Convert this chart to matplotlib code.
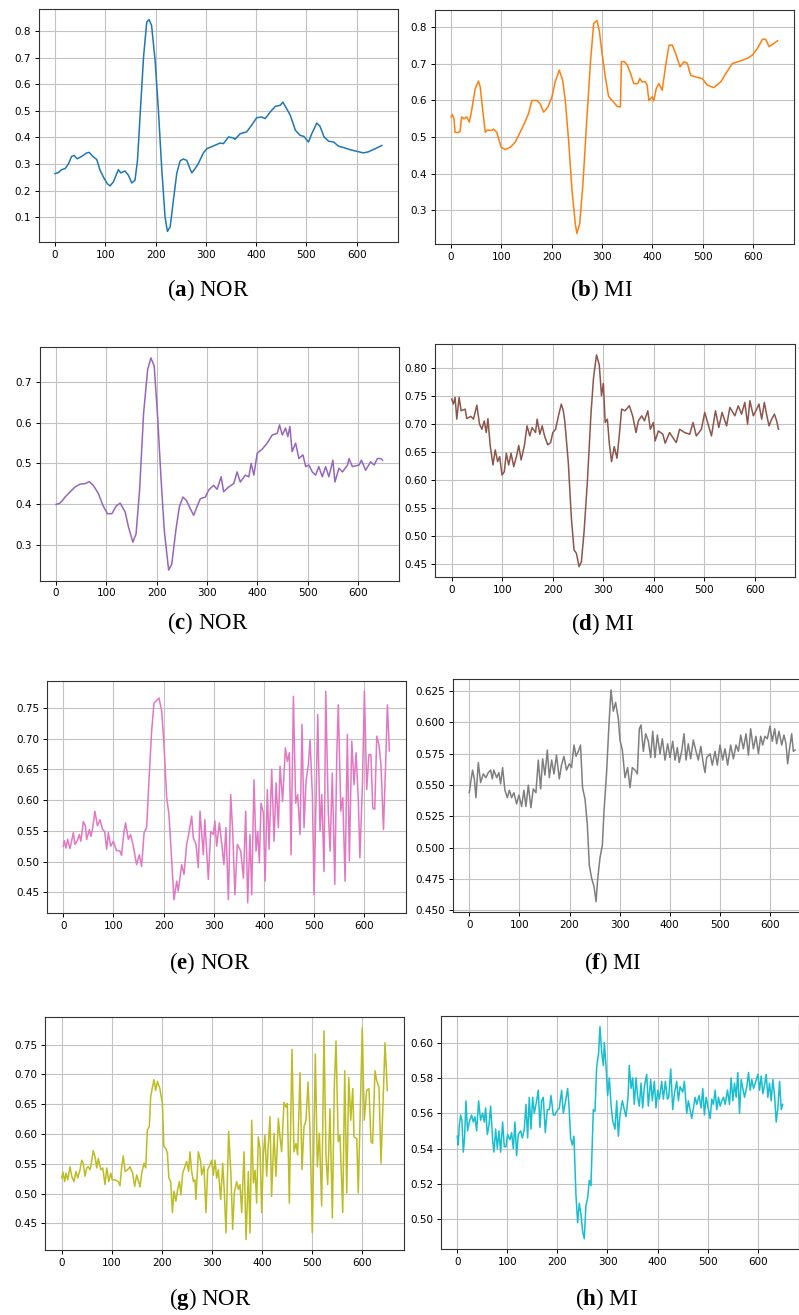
import matplotlib
matplotlib.use("Agg")
import matplotlib.pyplot as plt

# ---- data (sample index, value) ----
a_x = [0, 6.6, 13, 20, 26.5, 33, 38, 44, 53, 63, 68, 75, 83, 89.5, 96, 104, 109.4, 116, 126, 130.6,
       139, 146, 152.5, 159, 164, 169, 176, 182.4, 187, 192, 199, 205.6, 212, 218.8, 223.5, 229, 235.4,
       242, 248.7, 255, 262, 267, 272, 278.5, 285, 295, 302, 315, 328, 335, 345, 355, 358, 368, 381,
       391, 401, 411, 418, 428, 438, 448, 453, 458, 468, 478, 487.5, 495, 504, 510.6, 520.6, 527, 535,
       544, 554, 564, 574, 587, 600, 613, 623, 637, 650]
a_y = [0.264, 0.268, 0.279, 0.283, 0.300, 0.329, 0.332, 0.320, 0.329, 0.342, 0.344, 0.329, 0.317, 0.277,
       0.252, 0.226, 0.218, 0.233, 0.279, 0.267, 0.274, 0.258, 0.229, 0.239, 0.314, 0.477, 0.702, 0.834,
       0.843, 0.821, 0.690, 0.502, 0.289, 0.101, 0.047, 0.064, 0.164, 0.264, 0.312, 0.319, 0.314, 0.289,
       0.267, 0.283, 0.302, 0.342, 0.358, 0.368, 0.379, 0.377, 0.402, 0.398, 0.393, 0.414, 0.421, 0.446,
       0.474, 0.477, 0.471, 0.496, 0.517, 0.521, 0.533, 0.517, 0.483, 0.427, 0.408, 0.404, 0.383, 0.414,
       0.454, 0.442, 0.402, 0.386, 0.383, 0.367, 0.362, 0.354, 0.348, 0.342, 0.346, 0.358, 0.370]

b_x = [0, 2.7, 6, 8, 12.6, 18, 21, 26, 31, 36.5, 41, 48, 54.4, 58, 63, 68, 72, 81, 84, 91, 99.6, 107.5,
       117.5, 127.4, 134, 144, 154, 160.6, 170.6, 177, 184, 192.5, 200.4, 207, 215, 221.7, 227, 233.6,
       240.4, 247, 250, 255.5, 262, 268.8, 276.8, 283.4, 290, 294.8, 300, 306.6, 313, 320, 330, 336.5,
       338.5, 344.5, 350, 356.4, 363, 371, 375, 379.6, 386, 389.6, 392.9, 399.6, 402.8, 407.5, 412.8,
       419.5, 426, 433, 439.5, 446, 455, 463, 469.5, 476, 486, 499, 509, 522, 536, 546, 559, 575.4,
       588.7, 598.7, 608.6, 618.6, 625, 631.9, 641.8, 648.5]
b_y = [0.555, 0.561, 0.550, 0.513, 0.512, 0.515, 0.555, 0.550, 0.555, 0.541, 0.573, 0.632, 0.653, 0.637,
       0.573, 0.513, 0.519, 0.518, 0.522, 0.513, 0.472, 0.466, 0.472, 0.486, 0.504, 0.532, 0.564, 0.600,
       0.600, 0.591, 0.568, 0.582, 0.610, 0.651, 0.683, 0.655, 0.600, 0.490, 0.353, 0.262, 0.237, 0.262,
       0.371, 0.527, 0.701, 0.811, 0.818, 0.788, 0.729, 0.664, 0.611, 0.600, 0.584, 0.582, 0.706, 0.706,
       0.697, 0.675, 0.646, 0.646, 0.660, 0.651, 0.651, 0.642, 0.600, 0.610, 0.599, 0.632, 0.646, 0.628,
       0.692, 0.751, 0.751, 0.729, 0.692, 0.706, 0.701, 0.669, 0.664, 0.660, 0.642, 0.635, 0.651, 0.674,
       0.701, 0.708, 0.715, 0.724, 0.742, 0.767, 0.767, 0.747, 0.756, 0.763]

c_x = [0, 6.6, 13, 18, 28, 38, 48, 58, 66, 74, 84, 93, 102, 111, 119.5, 127.4, 137.4, 144, 152.6, 159,
       166, 174, 182, 188.5, 195, 201.8, 208.4, 215, 223.7, 230, 238, 245, 252, 258.8, 265, 273.4, 280,
       286.7, 296.7, 303, 313, 320, 328, 333, 343, 353, 359.7, 366, 376, 383, 387.6, 393, 399.6, 409.5,
       419.5, 429.4, 439.4, 444, 449.5, 456, 460.6, 464.6, 469, 476, 482.5, 490.5, 496, 502.4, 509,
       515.7, 522, 529, 535.6, 542, 550, 554, 562, 569, 579, 582, 588.7, 602, 606.6, 615, 625, 632,
       638.5, 645, 648.5]
c_y = [0.399, 0.401, 0.409, 0.417, 0.430, 0.442, 0.449, 0.450, 0.455, 0.446, 0.426, 0.397, 0.376, 0.376,
       0.395, 0.402, 0.380, 0.343, 0.306, 0.326, 0.434, 0.624, 0.731, 0.760, 0.740, 0.616, 0.467, 0.335,
       0.237, 0.252, 0.335, 0.393, 0.417, 0.409, 0.393, 0.372, 0.393, 0.413, 0.417, 0.434, 0.446, 0.436,
       0.467, 0.430, 0.442, 0.450, 0.479, 0.454, 0.471, 0.467, 0.500, 0.471, 0.525, 0.535, 0.550, 0.570,
       0.574, 0.595, 0.570, 0.587, 0.566, 0.591, 0.529, 0.550, 0.512, 0.521, 0.492, 0.496, 0.479, 0.471,
       0.492, 0.467, 0.492, 0.467, 0.508, 0.454, 0.488, 0.479, 0.496, 0.512, 0.492, 0.496, 0.508, 0.483,
       0.504, 0.496, 0.512, 0.512, 0.508]

d_x = [0, 3.3, 6.6, 10, 14.6, 18.6, 26.5, 29.8, 37.8, 43, 49.7, 55, 59.7, 64.3, 68.3, 71.6, 76, 81.6,
       86, 90.9, 94.8, 99.5, 104, 108, 112.7, 117.4, 122.7, 128, 132.6, 137.3, 144, 149, 154.5, 159,
       165.8, 169, 174.4, 179, 183.7, 190, 195.6, 200, 205.5, 212, 216.8, 220.8, 224, 230.8, 236.7, 242,
       246.7, 252, 256.6, 262, 268.6, 275.3, 280.5, 286.5, 292, 296.4, 300, 303.7, 308, 311.7, 316.3,
       321.6, 327, 331.5, 336.2, 342.8, 351.5, 358, 364.7, 369.4, 376, 381.3, 388, 393, 399, 402.5, 409,
       417.8, 422.4, 431, 437.7, 444.3, 451, 461, 471, 477.5, 484, 494, 500.7, 507.3, 514, 522, 528.5,
       535, 544, 550.4, 560.3, 567, 573.6, 580, 585.5, 590, 596.8, 603.5, 608, 613.4, 618.7, 623, 627.9,
       633.2, 638.6, 643, 646.6]
d_y = [0.745, 0.736, 0.748, 0.709, 0.748, 0.724, 0.727, 0.710, 0.714, 0.709, 0.734, 0.700, 0.691, 0.706,
       0.685, 0.710, 0.663, 0.627, 0.654, 0.633, 0.642, 0.609, 0.615, 0.648, 0.627, 0.648, 0.624, 0.642,
       0.662, 0.636, 0.663, 0.697, 0.679, 0.694, 0.685, 0.709, 0.682, 0.697, 0.679, 0.663, 0.667, 0.685,
       0.691, 0.718, 0.736, 0.724, 0.703, 0.630, 0.533, 0.475, 0.469, 0.445, 0.454, 0.509, 0.600, 0.715,
       0.782, 0.824, 0.806, 0.751, 0.773, 0.703, 0.709, 0.667, 0.633, 0.660, 0.639, 0.679, 0.727, 0.724,
       0.733, 0.715, 0.685, 0.706, 0.715, 0.706, 0.724, 0.691, 0.703, 0.670, 0.688, 0.682, 0.666, 0.685,
       0.676, 0.667, 0.691, 0.685, 0.682, 0.703, 0.679, 0.691, 0.721, 0.700, 0.679, 0.724, 0.694, 0.721,
       0.697, 0.730, 0.715, 0.733, 0.718, 0.739, 0.700, 0.742, 0.715, 0.727, 0.736, 0.709, 0.739, 0.718,
       0.697, 0.709, 0.718, 0.706, 0.691]

e_x = [0, 2, 5.3, 8.6, 13.3, 16.6, 20, 23, 28, 32, 35, 40, 44, 46.5, 52, 55, 58.5, 63, 68, 73, 78.4,
       82.4, 86.4, 89.7, 94.4, 99.7, 106, 113, 116, 121, 124, 129.6, 134, 139.5, 146, 151.5, 156, 161,
       166, 171, 176, 180.7, 184.7, 190.7, 196, 200.7, 206, 210.6, 216, 220.6, 226, 229, 235.9, 240.5,
       245.8, 250.5, 255.8, 259, 264.5, 269, 272.4, 279, 282, 289, 293.7, 299, 302, 305.6, 311, 315.6,
       320, 324, 329, 333.6, 337.5, 342, 346.8, 353.5, 359, 363.5, 367.4, 372, 375.4, 380, 384, 387.4,
       390.7, 394, 398.7, 402, 406.6, 410, 415.3, 420, 424, 428.6, 431.9, 437, 442.5, 446.5, 450.5,
       453.8, 458.5, 463, 467, 471.8, 475.7, 479.7, 483.7, 488.4, 491.7, 496.3, 499.7, 503.7, 507, 511.6,
       515, 519.6, 523, 528, 531.6, 536, 541, 545, 548, 553, 557, 561.5, 566, 570, 574.8, 579.4, 583.4,
       588, 591, 596, 600, 604.6, 609, 613, 616.6, 620.6, 624.6, 629, 633, 638, 643, 645.8, 649.8]
e_y = [0.525, 0.534, 0.522, 0.536, 0.521, 0.534, 0.547, 0.528, 0.534, 0.544, 0.533, 0.565, 0.558, 0.536,
       0.552, 0.541, 0.554, 0.582, 0.558, 0.568, 0.552, 0.549, 0.520, 0.547, 0.525, 0.533, 0.518, 0.517,
       0.510, 0.549, 0.563, 0.536, 0.544, 0.525, 0.495, 0.511, 0.492, 0.547, 0.555, 0.636, 0.712, 0.758,
       0.761, 0.766, 0.745, 0.690, 0.604, 0.576, 0.501, 0.438, 0.468, 0.452, 0.495, 0.479, 0.528, 0.547,
       0.574, 0.539, 0.528, 0.490, 0.582, 0.511, 0.568, 0.471, 0.549, 0.544, 0.566, 0.525, 0.563, 0.530,
       0.495, 0.555, 0.438, 0.609, 0.549, 0.446, 0.528, 0.517, 0.473, 0.582, 0.433, 0.544, 0.446, 0.633,
       0.517, 0.549, 0.498, 0.595, 0.579, 0.468, 0.617, 0.520, 0.650, 0.533, 0.628, 0.555, 0.655, 0.598,
       0.685, 0.663, 0.677, 0.511, 0.769, 0.595, 0.609, 0.544, 0.723, 0.555, 0.631, 0.658, 0.698, 0.609,
       0.446, 0.606, 0.739, 0.549, 0.609, 0.484, 0.777, 0.582, 0.517, 0.644, 0.463, 0.674, 0.755, 0.582,
       0.604, 0.468, 0.707, 0.501, 0.696, 0.625, 0.677, 0.598, 0.506, 0.623, 0.777, 0.617, 0.674, 0.674,
       0.587, 0.585, 0.704, 0.690, 0.658, 0.552, 0.677, 0.755, 0.680]

f_x = [0, 2.7, 6.6, 10, 13.3, 18, 22.6, 28, 33, 38, 42.6, 46, 49, 54.6, 59, 62.5, 66.5, 71, 76, 80, 84.5,
       89, 94.5, 99, 104.5, 109, 113, 117.8, 123, 127.7, 133, 137.7, 142.4, 146.4, 151, 155.7, 159.7,
       164.3, 169, 174, 179.6, 184, 188.9, 194, 199.6, 204, 209, 213, 217.6, 222, 226, 230.9, 235.5,
       239.5, 244, 249, 253, 256, 260.8, 265.5, 268.8, 274, 278.8, 282.8, 287.4, 292, 297.4, 300.7,
       305.4, 310.7, 316, 320.7, 325.3, 330.7, 335.3, 339.3, 342.7, 347.3, 352, 357.3, 362, 366, 370.6,
       375.3, 380.6, 385.2, 390.6, 395.9, 400.5, 405.9, 410.5, 415.2, 419, 423.8, 428.5, 432.5, 437,
       441.8, 447, 452.4, 457, 462, 467, 470.4, 473.7, 480.4, 485, 490.4, 495, 500.3, 505.7, 510.3,
       515.6, 521.6, 527, 532.3, 537, 541.6, 547, 552.3, 557, 561.5, 567, 572, 577, 581.5, 585.5, 590,
       594.8, 600, 604.7, 609.4, 613.4, 618, 623.4, 628, 632, 635.3, 638.7, 643.3, 646.7, 650]
f_y = [0.544, 0.552, 0.562, 0.555, 0.540, 0.568, 0.552, 0.559, 0.556, 0.560, 0.562, 0.555, 0.562, 0.556,
       0.560, 0.551, 0.564, 0.546, 0.540, 0.546, 0.540, 0.544, 0.535, 0.542, 0.533, 0.546, 0.533, 0.550,
       0.532, 0.547, 0.544, 0.570, 0.547, 0.571, 0.558, 0.578, 0.556, 0.570, 0.559, 0.574, 0.555, 0.566,
       0.573, 0.562, 0.567, 0.564, 0.582, 0.573, 0.577, 0.582, 0.548, 0.539, 0.519, 0.486, 0.476, 0.469,
       0.457, 0.474, 0.492, 0.502, 0.529, 0.560, 0.599, 0.626, 0.609, 0.616, 0.603, 0.586, 0.578, 0.556,
       0.564, 0.548, 0.564, 0.562, 0.559, 0.595, 0.598, 0.577, 0.591, 0.585, 0.572, 0.593, 0.572, 0.590,
       0.575, 0.587, 0.570, 0.583, 0.572, 0.585, 0.570, 0.580, 0.568, 0.577, 0.591, 0.570, 0.583, 0.571,
       0.586, 0.577, 0.570, 0.581, 0.567, 0.560, 0.572, 0.575, 0.566, 0.577, 0.566, 0.582, 0.570, 0.579,
       0.566, 0.582, 0.571, 0.582, 0.577, 0.590, 0.579, 0.591, 0.574, 0.595, 0.579, 0.589, 0.575, 0.589,
       0.582, 0.589, 0.587, 0.597, 0.585, 0.595, 0.583, 0.593, 0.582, 0.590, 0.583, 0.567, 0.578, 0.591,
       0.577, 0.578]

g_x = [0, 2.7, 6, 8.6, 12, 16.6, 20, 24.6, 28.6, 32, 36.6, 40, 43, 46.6, 50, 53, 56.6, 58.5, 63, 66.5,
       70, 73, 78, 82, 86.5, 90, 94, 98, 101, 106.5, 113, 116.4, 119.8, 123, 126.4, 131.7, 136.4, 141.7,
       145.7, 149.7, 153.7, 156.4, 159.7, 164.3, 167.7, 171, 175, 177.6, 181, 184.3, 187.6, 191, 196,
       201, 204, 207.6, 211, 214, 217.6, 221, 224, 228, 231.5, 235, 238, 241.5, 246, 249.5, 253.5, 256,
       259.5, 263, 266, 268, 272.8, 277.4, 279.4, 284, 288, 291.4, 296, 299.4, 302.7, 306, 309.4, 312.7,
       317.4, 321.4, 324.7, 328, 333.3, 338, 341.3, 344.6, 349.3, 352.6, 356, 359.3, 364, 368, 372.6,
       376, 379.3, 382.6, 386, 389.2, 392.5, 395.9, 399.2, 402.5, 405.8, 409.2, 412.5, 415.8, 419,
       423.8, 427.8, 432.5, 435.8, 439, 443.8, 447.8, 450.4, 454.4, 459.7, 463.7, 467.7, 471, 475.7,
       479.7, 483.7, 487.7, 491.7, 495.7, 500.3, 503, 506.3, 510.3, 514.3, 519, 523.6, 527.6, 531,
       535.6, 540.3, 544.2, 547.6, 552, 555.5, 561, 565, 569, 573, 577, 581, 583.5, 589, 592, 595.5, 600,
       604, 608.8, 613.4, 617.4, 620.7, 625.4, 628.7, 633.4, 637.4, 642, 645.4, 650]
g_y = [0.526, 0.536, 0.520, 0.534, 0.523, 0.545, 0.529, 0.520, 0.537, 0.526, 0.540, 0.556, 0.551, 0.529,
       0.543, 0.545, 0.540, 0.547, 0.572, 0.562, 0.543, 0.559, 0.540, 0.543, 0.515, 0.543, 0.520, 0.534,
       0.523, 0.523, 0.520, 0.513, 0.545, 0.563, 0.537, 0.540, 0.545, 0.534, 0.512, 0.531, 0.520, 0.511,
       0.534, 0.551, 0.543, 0.606, 0.613, 0.662, 0.678, 0.691, 0.673, 0.688, 0.676, 0.651, 0.579, 0.576,
       0.568, 0.526, 0.520, 0.468, 0.504, 0.487, 0.507, 0.520, 0.498, 0.534, 0.545, 0.554, 0.537, 0.570,
       0.537, 0.520, 0.523, 0.490, 0.570, 0.554, 0.531, 0.546, 0.468, 0.540, 0.548, 0.556, 0.531, 0.556,
       0.526, 0.540, 0.490, 0.551, 0.501, 0.434, 0.604, 0.529, 0.440, 0.501, 0.520, 0.507, 0.515, 0.468,
       0.570, 0.423, 0.537, 0.434, 0.623, 0.518, 0.539, 0.484, 0.595, 0.576, 0.468, 0.565, 0.598, 0.529,
       0.584, 0.629, 0.495, 0.601, 0.529, 0.626, 0.595, 0.570, 0.653, 0.645, 0.651, 0.484, 0.742, 0.570,
       0.584, 0.565, 0.703, 0.540, 0.612, 0.623, 0.687, 0.604, 0.434, 0.573, 0.734, 0.545, 0.601, 0.479,
       0.773, 0.562, 0.515, 0.642, 0.459, 0.681, 0.756, 0.587, 0.598, 0.468, 0.706, 0.501, 0.695, 0.623,
       0.676, 0.595, 0.592, 0.501, 0.620, 0.778, 0.623, 0.673, 0.676, 0.587, 0.584, 0.706, 0.690, 0.678,
       0.551, 0.665, 0.753, 0.673]

h_x = [0, 2, 4, 6.7, 9.3, 12, 14.6, 17.3, 20.6, 24, 28.6, 32, 35.3, 38.7, 42.6, 46.6, 50.6, 54, 56.6, 60,
       63.3, 66.6, 70.6, 73.3, 76.6, 80, 83.2, 86.6, 90.6, 93.9, 97.2, 100.5, 105.2, 108.5, 111.9, 115.2,
       118.5, 121.9, 126.5, 129.9, 133.9, 137.2, 140.5, 143.8, 147.2, 150.5, 153.8, 158.5, 161.8, 165.1,
       168.5, 171.8, 175.8, 179.8, 183.8, 187.1, 191.8, 195.1, 198.4, 203.8, 208.4, 211.8, 216.4, 220.4,
       223, 226.4, 229.7, 233, 237, 240.4, 243.7, 247, 250.4, 253.7, 257, 260.4, 263.7, 267, 271.7, 275,
       278.4, 282.3, 285, 288.3, 291.7, 293.7, 297, 300.3, 303.7, 307, 310.3, 315, 318.4, 321.7, 325,
       329.7, 333.6, 337, 341, 343.6, 347, 350.3, 353.6, 357, 360.3, 363.6, 367, 370.3, 373.6, 378.3,
       381.6, 386.3, 389.6, 393.6, 396.9, 400.3, 403.6, 408.3, 411.6, 415.6, 419.6, 422.3, 426.3, 430.3,
       433.6, 438.3, 441.6, 445, 450.3, 453.6, 458.3, 461.6, 465, 468.3, 471.6, 475, 478.3, 483, 487,
       490.3, 493.6, 497, 501.6, 505, 508.3, 511.6, 515, 518.3, 521.7, 525, 528.3, 531.7, 535, 539.7,
       543.7, 547, 550.3, 553.7, 557, 560.3, 563.7, 567, 570.3, 573.7, 578.3, 581.7, 585, 588.3, 591.7,
       596.3, 600.3, 603.7, 607, 610.3, 613.7, 617, 620.3, 623.6, 627, 630.3, 633.7, 637, 640.3, 643.7,
       647, 650]
h_y = [0.547, 0.542, 0.553, 0.559, 0.556, 0.538, 0.546, 0.567, 0.550, 0.555, 0.559, 0.555, 0.558, 0.550,
       0.567, 0.556, 0.560, 0.555, 0.563, 0.548, 0.553, 0.564, 0.545, 0.538, 0.551, 0.540, 0.550, 0.538,
       0.555, 0.541, 0.541, 0.548, 0.545, 0.549, 0.540, 0.555, 0.536, 0.548, 0.550, 0.546, 0.551, 0.565,
       0.546, 0.569, 0.551, 0.569, 0.560, 0.567, 0.573, 0.552, 0.567, 0.569, 0.549, 0.562, 0.562, 0.570,
       0.559, 0.559, 0.561, 0.563, 0.573, 0.560, 0.567, 0.574, 0.565, 0.546, 0.542, 0.547, 0.514, 0.498,
       0.509, 0.503, 0.493, 0.489, 0.508, 0.512, 0.522, 0.519, 0.562, 0.561, 0.586, 0.594, 0.609, 0.595,
       0.587, 0.600, 0.587, 0.570, 0.580, 0.565, 0.556, 0.551, 0.567, 0.547, 0.559, 0.567, 0.562, 0.558,
       0.569, 0.587, 0.574, 0.580, 0.565, 0.580, 0.569, 0.564, 0.577, 0.563, 0.575, 0.582, 0.564, 0.579,
       0.567, 0.578, 0.563, 0.573, 0.568, 0.578, 0.568, 0.578, 0.568, 0.569, 0.585, 0.562, 0.571, 0.578,
       0.567, 0.575, 0.572, 0.578, 0.560, 0.567, 0.562, 0.557, 0.563, 0.569, 0.565, 0.570, 0.563, 0.574,
       0.559, 0.569, 0.562, 0.557, 0.568, 0.565, 0.573, 0.562, 0.569, 0.564, 0.567, 0.569, 0.565, 0.573,
       0.565, 0.580, 0.567, 0.577, 0.569, 0.583, 0.560, 0.579, 0.574, 0.569, 0.575, 0.583, 0.573, 0.579,
       0.574, 0.578, 0.582, 0.573, 0.581, 0.571, 0.576, 0.582, 0.569, 0.577, 0.567, 0.579, 0.570, 0.555,
       0.563, 0.578, 0.562, 0.565]

letters = ["a", "b", "c", "d", "e", "f", "g", "h"]
labels = ["NOR", "MI", "NOR", "MI", "NOR", "MI", "NOR", "MI"]
colors = ["C0", "C1", "C4", "C5", "C6", "C7", "C8", "C9"]
series = [(a_x, a_y), (b_x, b_y), (c_x, c_y), (d_x, d_y),
          (e_x, e_y), (f_x, f_y), (g_x, g_y), (h_x, h_y)]

# axes boxes in pixels: left, top, right, bottom ; caption centre x, y
W, H = 799, 1315
boxes = [(38.7, 9, 398.2, 242), (434.7, 10, 793.8, 244),
         (39.7, 347.3, 398.8, 580.7), (435.4, 344.3, 794.8, 577.3),
         (47, 680.7, 405.7, 913.3), (453, 679.3, 811.3, 912.3),
         (45.4, 1017.3, 403.6, 1250), (441, 1016, 799, 1249.3)]
caps = [(208, 290), (601, 290), (208, 623), (602, 624),
        (210, 963), (613, 963), (210, 1299), (606, 1299)]

plt.rcParams['mathtext.fontset'] = 'custom'
plt.rcParams['mathtext.rm'] = 'Liberation Serif'
plt.rcParams['mathtext.bf'] = 'Liberation Serif:bold'

fig = plt.figure(figsize=(W / 100, H / 100), dpi=100)

for i in range(8):
    l, t, r, b = boxes[i]
    ax = fig.add_axes([l / W, 1 - b / H, (r - l) / W, (b - t) / H])
    ax.plot(series[i][0], series[i][1], color=colors[i], lw=1.1)
    ax.set_xticks([0, 100, 200, 300, 400, 500, 600])
    ax.grid(True, color="#c2c2c2", lw=0.8)
    ax.set_axisbelow(True)
    ax.tick_params(labelsize=7.5, length=3, width=0.7, pad=2.5)
    for s in ax.spines.values():
        s.set_linewidth(0.8)
        s.set_color("#333333")
    # caption under each panel
    cx, cy = caps[i]
    fig.text(cx / W, 1 - cy / H, "($\\mathbf{%s}$) %s" % (letters[i], labels[i]),
             family="Liberation Serif", fontsize=16.5, ha="center", va="center")

plt.savefig("out.png", dpi=100)
